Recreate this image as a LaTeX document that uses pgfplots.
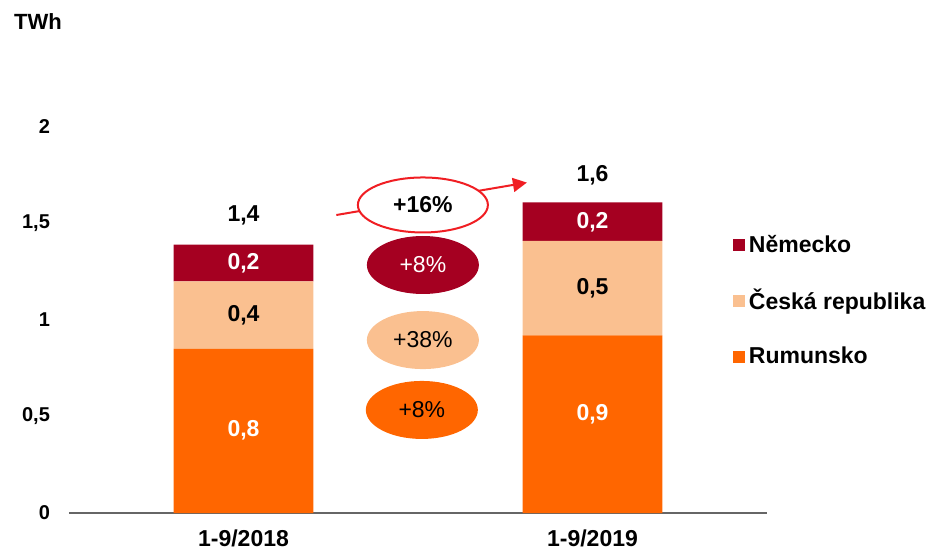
\documentclass[border=0pt]{standalone}
\usepackage{fontspec}
\setmainfont{Liberation Sans}
\usepackage{pgfplots}
\pgfplotsset{compat=1.18}
\usetikzlibrary{shapes.geometric, arrows.meta}
\definecolor{nemecko}{HTML}{A50021}
\definecolor{cesko}{HTML}{FAC090}
\definecolor{rumunsko}{HTML}{FF6600}
\definecolor{arrowred}{HTML}{F01E23}
\newcommand{\lblfont}{\bfseries\fontsize{11.5}{13}\selectfont}
\newcommand{\plainfont}{\fontsize{11.5}{13}\selectfont}
\tikzset{
  seglbl/.style={font=\lblfont},
  growth/.style={ellipse, minimum width=56pt, minimum height=29pt, inner sep=0pt, font=\plainfont},
}
\pgfplotsset{
  squarelegend/.style={legend image code/.code={\fill[##1] (0pt,-3pt) rectangle (6pt,3pt);}},
}
\begin{document}
\begin{tikzpicture}
\begin{axis}[
    at={(0,0)}, anchor=south west,
    scale only axis,
    width=349pt, height=193pt,
    xmin=-0.5, xmax=1.5,
    ymin=0, ymax=2,
    clip=false,
    ybar stacked,
    bar width=0.4,
    xtick={0,1},
    xticklabels={1-9/2018,1-9/2019},
    ytick={0,0.5,1,1.5,2},
    yticklabels={0,{0,5},1,{1,5},2},
    axis x line=bottom,
    axis y line=left,
    x axis line style={-, draw=black!60, line width=0.9pt},
    y axis line style={draw=none},
    major tick length=0pt,
    yticklabel style={font=\bfseries\fontsize{10}{12}\selectfont, xshift=-6pt},
    xticklabel style={font=\lblfont, yshift=-5pt},
    legend style={
        at={(0.942,0.742)}, anchor=north west,
        draw=none, fill=none,
        font=\lblfont,
        row sep=13pt,
    },
    legend cell align=left,
    reverse legend,
    squarelegend,
]
\addplot[fill=rumunsko, draw=none] coordinates {(0,0.85) (1,0.92)};
\addplot[fill=cesko, draw=none] coordinates {(0,0.35) (1,0.49)};
\addplot[fill=nemecko, draw=none] coordinates {(0,0.19) (1,0.20)};
\legend{Rumunsko, Česká republika, Německo}

% anchor points for the annotations, drawn after the axis
\coordinate (a08) at (axis cs:0,0.43);
\coordinate (a04) at (axis cs:0,1.025);
\coordinate (a02) at (axis cs:0,1.295);
\coordinate (b09) at (axis cs:1,0.51);
\coordinate (b05) at (axis cs:1,1.165);
\coordinate (b02) at (axis cs:1,1.505);
\coordinate (atot) at (axis cs:0,1.54);
\coordinate (btot) at (axis cs:1,1.75);
\coordinate (arrS) at (axis cs:0.266,1.544);
\coordinate (arrE) at (axis cs:0.812,1.712);
\coordinate (g16) at (axis cs:0.514,1.596);
\coordinate (gDE) at (axis cs:0.514,1.285);
\coordinate (gCZ) at (axis cs:0.514,0.896);
\coordinate (gRO) at (axis cs:0.511,0.534);
\coordinate (unit) at (axis cs:-0.589,2.544);
\end{axis}

\node[seglbl, text=white] at (a08) {0,8};
\node[seglbl] at (a04) {0,4};
\node[seglbl, text=white] at (a02) {0,2};
\node[seglbl, text=white] at (b09) {0,9};
\node[seglbl] at (b05) {0,5};
\node[seglbl, text=white] at (b02) {0,2};
\node[seglbl] at (atot) {1,4};
\node[seglbl] at (btot) {1,6};

\draw[arrowred, line width=1pt, -{Triangle[length=7pt,width=7pt]}] (arrS) -- (arrE);
\node[ellipse, draw=arrowred, line width=1pt, fill=white, minimum width=65pt, minimum height=27.5pt, inner sep=0pt, font=\lblfont] at (g16) {+16\%};
\node[growth, fill=nemecko, text=white] at (gDE) {+8\%};
\node[growth, fill=cesko] at (gCZ) {+38\%};
\node[growth, fill=rumunsko] at (gRO) {+8\%};

\node[font=\bfseries\fontsize{11}{13}\selectfont] at (unit) {TWh};

\pgfresetboundingbox
\path (-34.5pt,-19.5pt) rectangle (430pt,256.5pt);
\end{tikzpicture}
\end{document}
